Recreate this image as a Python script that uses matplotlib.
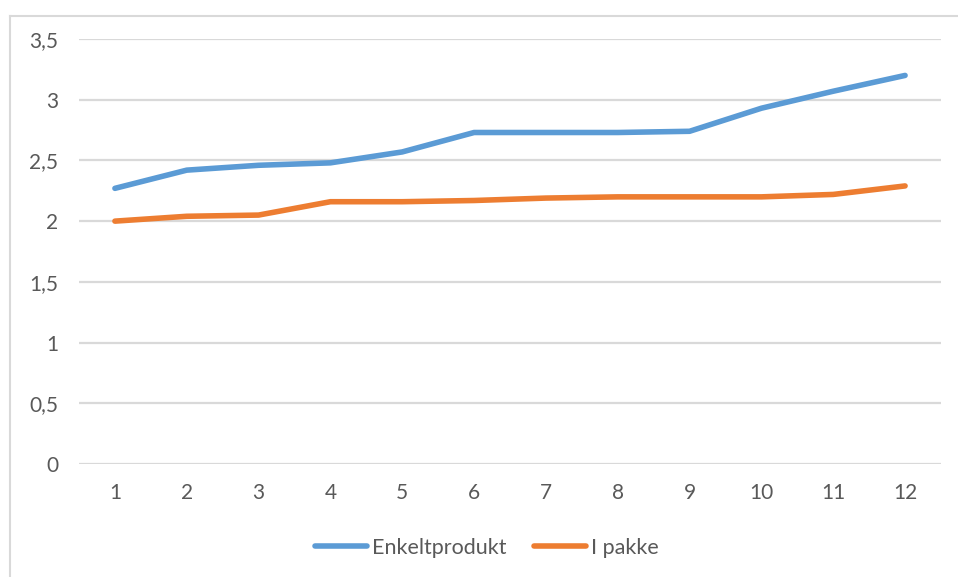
import matplotlib
matplotlib.use("Agg")
import matplotlib.pyplot as plt
from matplotlib.lines import Line2D
from matplotlib.ticker import FuncFormatter

months = [1, 2, 3, 4, 5, 6, 7, 8, 9, 10, 11, 12]
enkeltprodukt = [2.27, 2.42, 2.46, 2.48, 2.57, 2.73, 2.73, 2.73, 2.74, 2.93, 3.07, 3.20]
i_pakke = [2.00, 2.04, 2.05, 2.16, 2.16, 2.17, 2.19, 2.20, 2.20, 2.20, 2.22, 2.29]
y_ticks = [0, 0.5, 1, 1.5, 2, 2.5, 3, 3.5]

plt.rcParams['font.family'] = ['Lato', 'DejaVu Sans']

fig = plt.figure(figsize=(9.58, 5.77), dpi=100)
ax = fig.add_axes([79/958, 1-464/577, (941-79)/958, (464-39)/577])

blue = '#5b9bd5'
orange = '#ed7d31'
l1, = ax.plot(months, enkeltprodukt, color=blue, lw=4.0, solid_capstyle='round', solid_joinstyle='round', label='Enkeltprodukt', zorder=3)
l2, = ax.plot(months, i_pakke, color=orange, lw=4.0, solid_capstyle='round', solid_joinstyle='round', label='I pakke', zorder=3)

ax.set_xlim(0.5, 12.5)
ax.set_ylim(0, 3.5)
ax.set_yticks(y_ticks)
ax.set_xticks(months)
ax.yaxis.set_major_formatter(FuncFormatter(lambda v, p: ('%g' % v).replace('.', ',')))
ax.grid(axis='y', color='#d9d9d9', lw=1.6, zorder=0)
ax.set_axisbelow(True)
for s in ax.spines.values():
    s.set_visible(False)
ax.tick_params(length=0, labelsize=15, labelcolor='#595959')
ax.tick_params(axis='y', pad=15)
ax.tick_params(axis='x', pad=14)

fig.legend(handles=[l1, l2], loc='center', bbox_to_anchor=(487/958, 1-548/577),
           ncol=2, frameon=False, fontsize=15.5, labelcolor='#595959',
           handlelength=2.4, handletextpad=0.25, columnspacing=1.3)

# chart border
fig.add_artist(Line2D([10/958, 10/958], [0, 1-16/577], transform=fig.transFigure, color='#d9d9d9', lw=1.5))
fig.add_artist(Line2D([10/958, 1], [1-16/577, 1-16/577], transform=fig.transFigure, color='#d9d9d9', lw=1.5))

fig.savefig('out.png', dpi=100)
